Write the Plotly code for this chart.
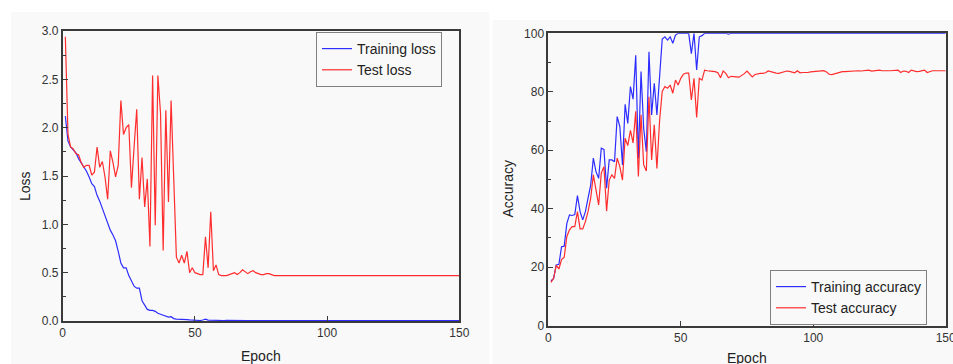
import plotly.graph_objects as go

W, H = 953, 364

epochs = list(range(1, 151))

train_loss = [
    2.12, 1.86, 1.80, 1.77, 1.74, 1.68, 1.64, 1.60, 1.55, 1.49,
    1.42, 1.39, 1.30, 1.24, 1.16, 1.09, 1.02, 0.94, 0.89, 0.83,
    0.72, 0.60, 0.55, 0.55, 0.47, 0.41, 0.36, 0.34, 0.34, 0.21,
    0.16, 0.12, 0.11, 0.11, 0.10, 0.08, 0.07, 0.06, 0.045, 0.04,
    0.045, 0.025, 0.02, 0.02, 0.018, 0.018, 0.015, 0.012, 0.01, 0.008,
    0.006, 0.005, 0.01, 0.02, 0.01, 0.008, 0.01, 0.006, 0.006, 0.005,
    0.005, 0.006, 0.005, 0.005, 0.006, 0.005, 0.005, 0.005, 0.006, 0.005,
    0.005, 0.008, 0.005, 0.005, 0.005, 0.004, 0.005, 0.005, 0.005, 0.004,
    0.005, 0.004, 0.005, 0.004, 0.005, 0.004, 0.005, 0.006, 0.004, 0.004,
    0.005, 0.004, 0.004, 0.004, 0.005, 0.004, 0.004, 0.004, 0.004, 0.005,
    0.004, 0.004, 0.004, 0.004, 0.004, 0.004, 0.004, 0.006, 0.004, 0.004,
    0.004, 0.004, 0.004, 0.004, 0.004, 0.004, 0.004, 0.004, 0.004, 0.004,
    0.004, 0.005, 0.004, 0.004, 0.004, 0.004, 0.004, 0.004, 0.004, 0.004,
    0.004, 0.004, 0.004, 0.004, 0.004, 0.004, 0.004, 0.004, 0.004, 0.004,
    0.004, 0.004, 0.004, 0.004, 0.004, 0.008, 0.004, 0.004, 0.004, 0.004,
]

test_loss = [
    2.94, 1.93, 1.80, 1.78, 1.73, 1.72, 1.64, 1.59, 1.61, 1.61,
    1.51, 1.54, 1.80, 1.59, 1.65, 1.49, 1.26, 1.76, 1.64, 1.49,
    1.61, 2.28, 1.93, 2.00, 2.03, 1.38, 1.80, 2.19, 1.26, 1.69,
    1.18, 1.47, 0.77, 2.54, 0.99, 2.54, 2.15, 0.73, 2.18, 1.23,
    2.28, 1.45, 0.66, 0.60, 0.68, 0.60, 0.72, 0.50, 0.55, 0.50,
    0.49, 0.48, 0.48, 0.87, 0.55, 1.13, 0.52, 0.58, 0.48, 0.47,
    0.47, 0.47, 0.48, 0.49, 0.50, 0.48, 0.50, 0.53, 0.51, 0.49,
    0.51, 0.52, 0.50, 0.49, 0.48, 0.48, 0.49, 0.49, 0.48, 0.47,
    0.47, 0.47, 0.47, 0.47, 0.47, 0.47, 0.47, 0.47, 0.47, 0.47,
    0.47, 0.47, 0.47, 0.47, 0.47, 0.47, 0.47, 0.47, 0.47, 0.47,
    0.47, 0.47, 0.47, 0.47, 0.47, 0.47, 0.47, 0.47, 0.472, 0.47,
    0.47, 0.47, 0.47, 0.47, 0.47, 0.468, 0.47, 0.47, 0.47, 0.47,
    0.47, 0.468, 0.47, 0.47, 0.47, 0.47, 0.47, 0.47, 0.47, 0.47,
    0.468, 0.47, 0.47, 0.47, 0.47, 0.47, 0.468, 0.47, 0.47, 0.47,
    0.47, 0.47, 0.468, 0.468, 0.47, 0.47, 0.47, 0.468, 0.47, 0.47,
]

train_acc = [
    15.3, 16.2, 20.8, 21.0, 27.0, 27.2, 35.0, 37.9, 37.7, 38.0,
    44.5, 39.0, 36.2, 39.0, 43.6, 48.1, 57.3, 52.7, 50.4, 60.7,
    60.3, 47.0, 56.7, 56.7, 56.1, 71.5, 68.1, 55.0, 75.7, 69.2,
    81.8, 77.5, 92.5, 57.3, 86.9, 67.5, 59.5, 93.7, 72.1, 82.9,
    72.1, 85.0, 98.0, 98.8, 97.7, 98.8, 96.6, 99.4, 100, 100,
    100, 100, 100, 93.0, 100, 87.5, 98.8, 99.2, 100, 100,
    100, 100, 100, 100, 100, 100, 100, 99.7, 100, 100,
    100, 100, 100, 100, 100, 100, 100, 100, 100, 100,
    100, 100, 100, 100, 100, 100, 100, 100, 100, 100,
    100, 100, 100, 100, 100, 100, 100, 100, 100, 100,
    100, 100, 100, 100, 100, 100, 100, 100, 100, 100,
    100, 100, 100, 100, 100, 100, 100, 100, 100, 100,
    100, 100, 100, 100, 100, 100, 100, 100, 100, 100,
    100, 100, 100, 100, 100, 100, 100, 100, 100, 100,
    100, 100, 100, 100, 100, 100, 100, 100, 100, 100,
]

test_acc = [
    14.8, 16.2, 20.6, 19.4, 22.6, 23.4, 30.5, 32.8, 33.9, 33.9,
    39.0, 33.1, 33.1, 35.6, 39.0, 43.6, 51.6, 47.0, 41.3, 52.2,
    54.4, 39.2, 49.8, 51.6, 50.4, 57.3, 54.4, 49.8, 64.1, 61.6,
    66.8, 62.5, 73.3, 51.0, 72.1, 55.0, 52.9, 78.3, 56.7, 68.7,
    53.8, 70.0, 80.1, 81.8, 81.2, 82.3, 79.5, 84.0, 82.3, 84.6,
    86.0, 86.4, 86.4, 77.2, 84.6, 71.2, 84.6, 84.0, 87.4, 87.2,
    87.2, 87.0, 86.9, 86.5, 84.8, 87.1, 86.3, 84.8, 85.3, 85.3,
    85.1, 85.0, 85.5, 86.2, 87.1, 86.0, 85.1, 85.9, 86.2, 86.3,
    86.3, 86.5, 87.1, 86.8, 86.5, 86.4, 86.3, 86.5, 86.8, 87.1,
    87.0, 86.7, 86.5, 87.2, 86.5, 86.6, 86.5, 86.6, 86.8, 86.9,
    86.9, 87.0, 87.1, 87.2, 86.8, 86.0, 85.9, 86.2, 86.5, 86.7,
    86.9, 86.9, 87.0, 87.0, 87.1, 87.2, 87.2, 87.1, 87.2, 87.3,
    87.4, 87.1, 87.2, 87.3, 87.4, 87.2, 87.1, 87.2, 87.2, 87.3,
    87.3, 87.4, 86.6, 87.1, 87.0, 86.6, 87.4, 87.1, 86.9, 87.0,
    87.2, 87.4, 86.6, 86.9, 87.2, 87.2, 87.1, 87.2, 87.2, 87.2,
]

loss_ticks = [0.0, 0.5, 1.0, 1.5, 2.0, 2.5, 3.0]
acc_ticks = [0, 20, 40, 60, 80, 100]
epoch_ticks = [0, 50, 100, 150]

BLUE = "rgb(45,45,255)"
RED = "rgb(255,45,45)"
BG = "#f9f9f9"
AX = "#3a3a3a"
FONT = "Liberation Sans, Arial, sans-serif"


def px(x):
    return x / W


def py(y):
    return 1 - y / H


fig = go.Figure()
fig.add_trace(go.Scatter(x=epochs, y=train_loss, mode="lines", name="Training loss",
                         line=dict(color=BLUE, width=1.2), xaxis="x", yaxis="y", legend="legend"))
fig.add_trace(go.Scatter(x=epochs, y=test_loss, mode="lines", name="Test loss",
                         line=dict(color=RED, width=1.2), xaxis="x", yaxis="y", legend="legend"))
fig.add_trace(go.Scatter(x=epochs, y=train_acc, mode="lines", name="Training accuracy",
                         line=dict(color=BLUE, width=1.2), xaxis="x2", yaxis="y2", legend="legend2"))
fig.add_trace(go.Scatter(x=epochs, y=test_acc, mode="lines", name="Test accuracy",
                         line=dict(color=RED, width=1.2), xaxis="x2", yaxis="y2", legend="legend2"))

axis_common = dict(showline=True, linecolor=AX, linewidth=1.6, mirror=True, showgrid=False,
                   zeroline=False, ticks="inside", ticklen=5, tickwidth=1.3, tickcolor=AX,
                   automargin=False, ticklabeloverflow="allow",
                   tickfont=dict(family=FONT, size=12, color="#333"))

fig.update_layout(
    width=W, height=H, autosize=False,
    margin=dict(l=0, r=0, t=0, b=0, pad=0, autoexpand=False),
    paper_bgcolor="white", plot_bgcolor=BG,
    font=dict(family=FONT, color="#222"),
    xaxis=dict(domain=[px(62.7), px(459.3)], anchor="y", range=[0, 150],
               tickvals=epoch_ticks, **axis_common),
    yaxis=dict(domain=[py(321), py(31)], anchor="x", range=[0, 3],
               tickvals=loss_ticks, ticktext=[f"{v:.1f}" for v in loss_ticks],
               minor=dict(ticks="inside", ticklen=3, tickcolor=AX, dtick=0.25, tick0=0),
               **axis_common),
    xaxis2=dict(domain=[px(548.3), px(945.7)], anchor="y2", range=[0, 150],
                tickvals=epoch_ticks, **axis_common),
    yaxis2=dict(domain=[py(325.7), py(33.3)], anchor="x2", range=[0, 100],
                tickvals=acc_ticks,
                minor=dict(ticks="inside", ticklen=3, tickcolor=AX, dtick=10, tick0=0),
                **axis_common),
    legend=dict(x=px(316), y=py(32), xanchor="left", yanchor="top",
                bgcolor=BG, bordercolor="#808080", borderwidth=1,
                font=dict(family=FONT, size=14, color="#222"), tracegroupgap=0),
    legend2=dict(x=px(770), y=py(270), xanchor="left", yanchor="top",
                 bgcolor=BG, bordercolor="#808080", borderwidth=1,
                 font=dict(family=FONT, size=14, color="#222"), tracegroupgap=0),
    shapes=[
        dict(type="rect", xref="paper", yref="paper", x0=px(11), x1=px(489.5), y0=0, y1=py(12),
             fillcolor=BG, line=dict(width=0), layer="below"),
        dict(type="rect", xref="paper", yref="paper", x0=px(492.5), x1=1, y0=0, y1=py(20),
             fillcolor=BG, line=dict(width=0), layer="below"),
    ],
    annotations=[
        dict(text="Loss", x=px(25), y=py(186), xref="paper", yref="paper", textangle=-90,
             showarrow=False, xanchor="center", yanchor="middle",
             font=dict(family=FONT, size=14, color="#222")),
        dict(text="Epoch", x=px(260.7), y=py(355.5), xref="paper", yref="paper",
             showarrow=False, xanchor="center", yanchor="middle",
             font=dict(family=FONT, size=14, color="#222")),
        dict(text="Accuracy", x=px(507.5), y=py(189), xref="paper", yref="paper", textangle=-90,
             showarrow=False, xanchor="center", yanchor="middle",
             font=dict(family=FONT, size=14, color="#222")),
        dict(text="Epoch", x=px(747), y=py(358), xref="paper", yref="paper",
             showarrow=False, xanchor="center", yanchor="middle",
             font=dict(family=FONT, size=14, color="#222")),
    ],
)

fig.write_html(
    "out.html",
    post_script="document.body.style.margin='0px';document.body.style.overflow='hidden';",
)
